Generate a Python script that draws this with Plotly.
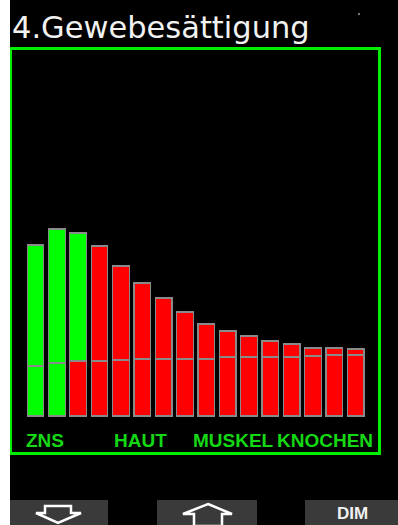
import plotly.graph_objects as go

# ---- data ----
compartments = list(range(1, 17))
total_sat = [171, 187, 183, 170, 150, 133, 118, 104, 92, 85, 80, 75, 72, 68, 68, 67]
lower_sat = [50, 53, 55, 55, 56, 57, 57, 57, 57, 59, 59, 59, 59, 60, 61, 61]
lower_green = [True, True, False, False, False, False, False, False,
               False, False, False, False, False, False, False, False]
upper_green = [True, True, True, False, False, False, False, False,
               False, False, False, False, False, False, False, False]
group_labels = ["ZNS", "HAUT", "MUSKEL", "KNOCHEN"]
group_label_pos = [0.48, 4.58, 8.26, 12.2]   # compartment positions where labels start
title_text = "4.Gewebesättigung"

GREEN = "#00ff00"
RED = "#ff0000"
FRAME = "#00ee00"
LABEL = "#15d815"

upper_sat = [t - l for t, l in zip(total_sat, lower_sat)]

W, H = 398, 525
ml, mr, mt, mb = 12, 20, 50, 73
pw, ph = W - ml - mr, H - mt - mb


def px(x):
    return (x - ml) / pw


def py(y):
    return (H - mb - y) / ph


fig = go.Figure()
fig.add_trace(go.Bar(
    x=compartments, y=lower_sat, width=0.78,
    marker=dict(color=[GREEN if g else RED for g in lower_green],
                line=dict(color="#8a8a8a", width=1.2)),
    hoverinfo="skip"))
fig.add_trace(go.Bar(
    x=compartments, y=upper_sat, width=0.78,
    marker=dict(color=[GREEN if g else RED for g in upper_green],
                line=dict(color="#8a8a8a", width=1.2)),
    hoverinfo="skip"))

annotations = []
for lab, pos in zip(group_labels, group_label_pos):
    annotations.append(dict(
        x=pos, y=-24, xref="x", yref="y", text=lab, showarrow=False,
        xanchor="left", yanchor="middle",
        font=dict(family="Liberation Sans", size=19, color=LABEL, weight="bold")))

annotations.append(dict(
    x=px(10), y=py(28), xref="paper", yref="paper", text=title_text,
    showarrow=False, xanchor="left", yanchor="middle",
    font=dict(family="DejaVu Sans", size=30.5, color="#f2f2f2")))
annotations.append(dict(
    x=px(352), y=py(513), xref="paper", yref="paper", text="<b>DIM</b>",
    showarrow=False, xanchor="center", yanchor="middle",
    font=dict(family="Liberation Sans", size=17, color="#f0f0f0")))

shapes = []
# white strip on the left edge
shapes.append(dict(type="rect", xref="paper", yref="paper",
                   x0=px(0), x1=px(10), y0=py(0), y1=py(H),
                   fillcolor="white", line=dict(width=0), layer="above"))
# small dot top right
shapes.append(dict(type="rect", xref="paper", yref="paper",
                   x0=px(358), x1=px(360), y0=py(13), y1=py(15),
                   fillcolor="#777777", line=dict(width=0)))
# buttons
for x0, x1 in [(10, 108), (157, 257), (305, 398)]:
    shapes.append(dict(type="rect", xref="paper", yref="paper",
                       x0=px(x0), x1=px(x1), y0=py(500), y1=py(525),
                       fillcolor="#3a3a3a", line=dict(width=0)))


def path(points):
    return "M " + " L ".join(f"{px(a):.5f},{py(b):.5f}" for a, b in points) + " Z"


down_arrow = [(45, 506), (71, 506), (71, 513), (81, 513), (58, 523), (36, 513), (45, 513)]
up_arrow = [(208, 504), (232, 514), (222, 514), (222, 526), (194, 526), (194, 514), (183, 514)]
for pts in (down_arrow, up_arrow):
    shapes.append(dict(type="path", xref="paper", yref="paper", path=path(pts),
                       line=dict(color="white", width=2.5), fillcolor="rgba(0,0,0,0)"))

ppu = 21.35
x_left = 1 - (35.5 - ml) / ppu
fig.update_layout(
    width=W, height=H,
    margin=dict(l=ml, r=mr, t=mt, b=mb, pad=0),
    paper_bgcolor="black", plot_bgcolor="black",
    barmode="stack", showlegend=False,
    xaxis=dict(range=[x_left, x_left + pw / ppu], showgrid=False, zeroline=False,
               showticklabels=False, ticks="", showline=True, mirror=True,
               linecolor=FRAME, linewidth=3, fixedrange=True),
    yaxis=dict(range=[-(H - mb - 416), 416 - mt], showgrid=False, zeroline=False,
               showticklabels=False, ticks="", showline=True, mirror=True,
               linecolor=FRAME, linewidth=3, fixedrange=True),
    annotations=annotations, shapes=shapes,
)

fig.write_html(
    "out.html",
    config={"displayModeBar": False},
    post_script="document.body.style.margin='0';document.body.style.overflow='hidden';",
)
